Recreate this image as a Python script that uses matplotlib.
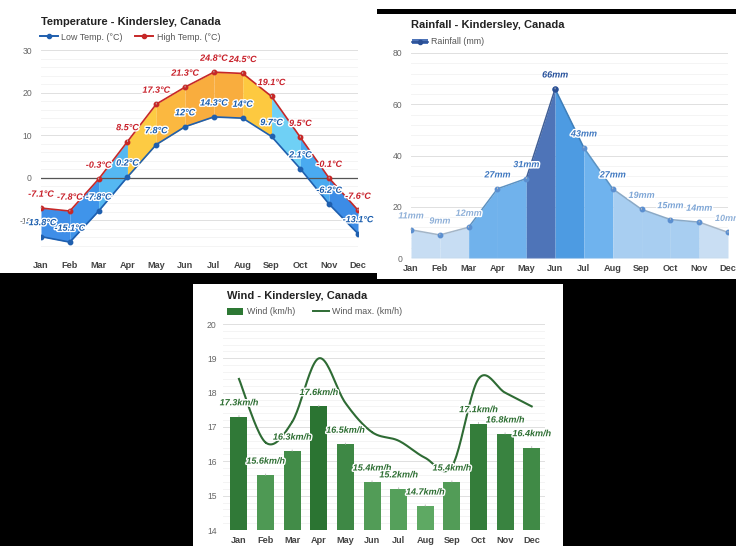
import numpy as np
import matplotlib
matplotlib.use("Agg")
import matplotlib.pyplot as plt
import matplotlib.patheffects as pe
from matplotlib.patches import Rectangle, Patch
from matplotlib.lines import Line2D
from matplotlib.ticker import MultipleLocator
from matplotlib.colors import to_rgb

months = ["Jan", "Feb", "Mar", "Apr", "May", "Jun", "Jul", "Aug", "Sep", "Oct", "Nov", "Dec"]
temp_high = [-7.1, -7.8, -0.3, 8.5, 17.3, 21.3, 24.8, 24.5, 19.1, 9.5, -0.1, -7.6]
temp_low = [-13.8, -15.1, -7.8, 0.2, 7.8, 12, 14.3, 14, 9.7, 2.1, -6.2, -13.1]
rainfall = [11, 9, 12, 27, 31, 66, 43, 27, 19, 15, 14, 10]
wind_avg = [17.3, 15.6, 16.3, 17.6, 16.5, 15.4, 15.2, 14.7, 15.4, 17.1, 16.8, 16.4]
wind_max = [18.4, 16.55, 17.15, 19.0, 17.7, 16.85, 16.6, 16.1, 15.85, 18.4, 18.0, 17.6]

# fill colour of each month-to-month segment
temp_seg_colors = ["#3f8ee8", "#3f94ea", "#55b8f2", "#fdcb43", "#fbb840", "#f9ad3e",
                   "#f9ad3e", "#fdc940", "#6fd0f5", "#4aaaf0", "#3c8ce6"]
rain_seg_colors = ["#c7ddf3", "#c7ddf3", "#70b2ec", "#70b2ec", "#4e74b8", "#4d9be2",
                   "#6fb3ee", "#a8cef1", "#a8cef1", "#a8cef1", "#c9def3"]
rain_label_colors = ["#8fb0d8", "#8fb0d8", "#8fb0d8", "#3f78c0", "#3f78c0", "#244f9a",
                     "#3f78c0", "#3f78c0", "#7ea6d6", "#7ea6d6", "#7ea6d6", "#8fb0d8"]

W, H = 736, 546
plt.rcParams["font.family"] = ["Liberation Sans", "DejaVu Sans"]
plt.rcParams["axes.unicode_minus"] = False
halo = [pe.withStroke(linewidth=2, foreground="white")]

fig = plt.figure(figsize=(W / 100, H / 100), dpi=100, facecolor="black")


def box(x0, y0, x1, y1):
    return [x0 / W, 1 - y1 / H, (x1 - x0) / W, (y1 - y0) / H]


def panel(x0, y0, x1, y1):
    fig.add_artist(Rectangle((x0 / W, 1 - y1 / H), (x1 - x0) / W, (y1 - y0) / H,
                             transform=fig.transFigure, facecolor="white",
                             edgecolor="none", zorder=-5))


def style_axis(ax, major, xpad, ypad):
    for side in ax.spines.values():
        side.set_visible(False)
    ax.yaxis.set_major_locator(MultipleLocator(major))
    ax.yaxis.set_minor_locator(MultipleLocator(major / 5))
    ax.grid(axis="y", which="major", color="#e0e0e0", lw=0.7)
    ax.grid(axis="y", which="minor", color="#f2f2f2", lw=0.6)
    ax.set_axisbelow(True)
    ax.tick_params(which="both", length=0)
    ax.tick_params(axis="y", labelsize=6.2, labelcolor="#666666", pad=ypad)
    ax.tick_params(axis="x", labelsize=6.6, labelcolor="#444444", pad=xpad)
    ax.set_xticks(range(12))
    ax.set_xticklabels(months, fontweight="bold")


def label(ax, x, y, text, color, size=6.5, stem=True):
    ax.annotate(text, (x, y), xytext=(0, 10), textcoords="offset points",
                ha="center", va="center", fontsize=size, color=color,
                fontweight="bold", fontstyle="italic", path_effects=halo, zorder=6,
                arrowprops=dict(arrowstyle="-", color="#bdbdbd", lw=0.7,
                                shrinkA=4, shrinkB=0) if stem else None)


def title(x, y, text):
    fig.text(x / W, 1 - y / H, text, fontsize=8, fontweight="bold",
             color="#222222", ha="left", va="center")


def smooth(xs, ys, n=24):
    xs, ys = np.asarray(xs, float), np.asarray(ys, float)
    px = np.concatenate([[xs[0]], xs, [xs[-1]]])
    py = np.concatenate([[ys[0]], ys, [ys[-1]]])
    out_x, out_y = [], []
    t = np.linspace(0, 1, n)
    for i in range(1, len(px) - 2):
        for p, out in ((px, out_x), (py, out_y)):
            p0, p1, p2, p3 = p[i - 1], p[i], p[i + 1], p[i + 2]
            out.extend(0.5 * (2 * p1 + (-p0 + p2) * t + (2 * p0 - 5 * p1 + 4 * p2 - p3) * t ** 2
                              + (-p0 + 3 * p1 - 3 * p2 + p3) * t ** 3))
    return out_x, out_y


x = np.arange(12)

# panels
panel(0, 0, 377, 273)
panel(377, 0, 736, 9)
panel(377, 14, 736, 279)
panel(193, 284, 563, 546)

# ---- temperature ----
ax = fig.add_axes(box(41, 50, 358, 254.5))
ax.set_xlim(0, 11)
ax.set_ylim(-18, 30)
style_axis(ax, 10, 5, 6.5)
ax.set_yticks([-10, 0, 10, 20, 30])
for i in range(11):
    ax.fill_between(x[i:i + 2], temp_low[i:i + 2], temp_high[i:i + 2],
                    color=temp_seg_colors[i], lw=0, zorder=2)
ax.axhline(0, color="#555555", lw=0.9, zorder=3)
ax.plot(x, temp_low, color="#1f5fae", lw=1.2, marker="o", ms=3.2, zorder=4)
ax.plot(x, temp_high, color="#c62828", lw=1.2, marker="o", ms=3.2, zorder=4)
for i in range(12):
    label(ax, i, temp_high[i], f"{temp_high[i]:g}°C", "#c8202a")
    label(ax, i, temp_low[i], f"{temp_low[i]:g}°C", "#1a5dad", stem=False)
title(41, 22, "Temperature - Kindersley, Canada")
ax.legend([Line2D([], [], color="#1f5fae", lw=1.4, marker="o", ms=3),
           Line2D([], [], color="#c62828", lw=1.4, marker="o", ms=3)],
          ["Low Temp. (°C)", "High Temp. (°C)"], loc="center left",
          bbox_to_anchor=(40 / W, 1 - 37 / H), bbox_transform=fig.transFigure,
          ncol=2, frameon=False, fontsize=6.4, labelcolor="#555555",
          handlelength=2.0, handletextpad=0.4, columnspacing=1.4, borderpad=0,
          borderaxespad=0)

# ---- rainfall ----
ax = fig.add_axes(box(411, 53, 728, 258))
ax.set_xlim(0, 11)
ax.set_ylim(0, 80)
style_axis(ax, 20, 4, 6)
ax.axhline(0, color="#bbbbbb", lw=0.8, zorder=3)
for i in range(11):
    ax.fill_between(x[i:i + 2], 0, rainfall[i:i + 2], color=rain_seg_colors[i],
                    lw=0, zorder=2)
    dark = tuple(c * 0.82 for c in to_rgb(rain_seg_colors[i]))
    ax.plot(x[i:i + 2], rainfall[i:i + 2], color=dark, lw=1.1, zorder=4)
ax.plot(x, rainfall, ls="none", marker="o", ms=3.2, color="#5b8fd0", zorder=5)
ax.plot(5, rainfall[5], marker="o", ms=3.6, color="#2a4f94", zorder=5)
for i in range(12):
    label(ax, i, rainfall[i], f"{rainfall[i]}mm", rain_label_colors[i])
title(411, 25, "Rainfall - Kindersley, Canada")
ax.legend([(Patch(facecolor="#4e74b8"),
            Line2D([], [], color="#2a4f94", lw=1.2, marker="o", ms=3))],
          ["Rainfall (mm)"], loc="center left",
          bbox_to_anchor=(412 / W, 1 - 42 / H), bbox_transform=fig.transFigure,
          frameon=False, fontsize=6.4, labelcolor="#555555", handlelength=1.8,
          handleheight=0.6, handletextpad=0.3, borderpad=0, borderaxespad=0)

# ---- wind ----
ax = fig.add_axes(box(223, 324, 545, 530))
ax.set_xlim(-0.6, 11.5)
ax.set_ylim(14, 20)
style_axis(ax, 1, 4, 4.5)
light, dark = np.array(to_rgb("#5ea963")), np.array(to_rgb("#2b7432"))
lo, hi = min(wind_avg), max(wind_avg)
bar_colors = [tuple(light + (dark - light) * (v - lo) / (hi - lo)) for v in wind_avg]
ax.bar(x, np.array(wind_avg) - 14, bottom=14, width=0.64, color=bar_colors, zorder=2)
sx, sy = smooth(x, wind_max)
ax.plot(sx, sy, color="#2e6b34", lw=1.5, zorder=4)
for i in range(12):
    label(ax, i, wind_avg[i], f"{wind_avg[i]:g}km/h", "#2d6e32")
title(227, 296, "Wind - Kindersley, Canada")
ax.legend([Patch(facecolor="#2d7834"), Line2D([], [], color="#2e6b34", lw=1.4)],
          ["Wind (km/h)", "Wind max. (km/h)"], loc="center left",
          bbox_to_anchor=(227 / W, 1 - 312 / H), bbox_transform=fig.transFigure,
          ncol=2, frameon=False, fontsize=6.4, labelcolor="#555555",
          handlelength=1.8, handleheight=0.8, handletextpad=0.4, columnspacing=2.0,
          borderpad=0, borderaxespad=0)

fig.savefig("out.png", dpi=100, facecolor="black")
